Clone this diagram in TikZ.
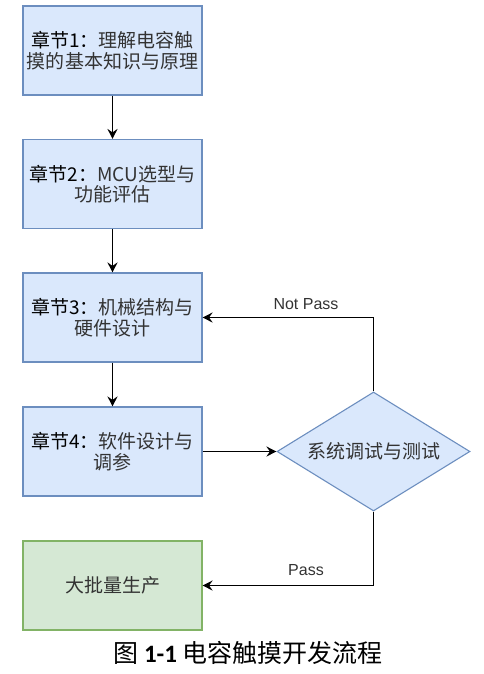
\documentclass[tikz,border=0pt]{standalone}
\usepackage{fontspec}
\setmainfont{Noto Sans CJK SC}
\newfontfamily\labelfont{Liberation Sans}
\newfontfamily\numfont{Carlito}
\usetikzlibrary{arrows.meta,shapes.geometric}
\definecolor{bfill}{HTML}{DAE8FC}
\definecolor{bdraw}{HTML}{6C8EBF}
\definecolor{gfill}{HTML}{D5E8D4}
\definecolor{gdraw}{HTML}{82B366}
\definecolor{txt}{HTML}{333333}
\tikzset{
  box/.style={draw=bdraw, fill=bfill, line width=1.1pt, minimum width=179pt, minimum height=89pt,
    align=center, inner sep=0pt, font=\fontsize{19}{20.5}\selectfont, text=txt},
  gbox/.style={box, draw=gdraw, fill=gfill},
  dia/.style={diamond, aspect=1.62, draw=bdraw, fill=bfill, line width=1.1pt, minimum width=193pt,
    minimum height=119pt, inner sep=0pt, font=\fontsize{19}{20.5}\selectfont, text=txt},
  conn/.style={line width=1.7pt, -{Stealth[length=10pt,width=10pt,inset=3.5pt]}},
  lbl/.style={font=\labelfont\fontsize{16}{18}\selectfont, text=txt, inner sep=0pt}
}
\newcommand{\pre}[1]{\textcolor{black}{#1}}
\begin{document}
\begin{tikzpicture}[x=1pt,y=-1pt]
\useasboundingbox (0,0) rectangle (483,674);
\node[box] (b1) at (112.5,50.5) {\pre{章节1：}理解电容触\\摸的基本知识与原理};
\node[box] (b2) at (112.5,184) {\pre{章节2：}MCU选型与\\功能评估};
\node[box] (b3) at (112.5,317.5) {\pre{章节3：}机械结构与\\硬件设计};
\node[box] (b4) at (112.5,451.5) {\pre{章节4：}软件设计与\\调参};
\node[gbox] (b5) at (112.5,585.5) {大批量生产};
\node[dia] (d) at (373.5,451.5) {系统调试与测试};
\draw[conn] (b1) -- (b2);
\draw[conn] (b2) -- (b3);
\draw[conn] (b3) -- (b4);
\draw[conn] (b4) -- (d);
\draw[conn] (d.north) |- (b3.east);
\draw[conn] (d.south) |- (b5.east);
\node[lbl] (np) at (306,304) {Not Pass};
\node[lbl] (ps) at (306,570) {Pass};
\node[font=\fontsize{25}{28}\selectfont, inner sep=0pt] (cap) at (248,653) {图 {\numfont\bfseries 1-1} 电容触摸开发流程};
\end{tikzpicture}
\end{document}
